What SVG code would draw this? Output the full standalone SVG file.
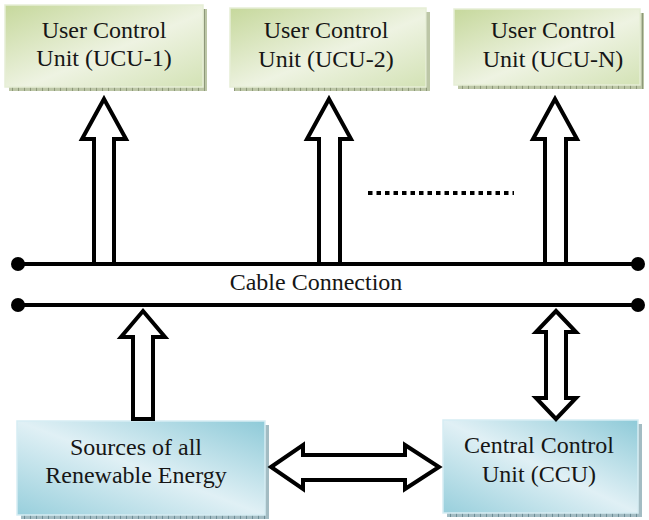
<svg xmlns="http://www.w3.org/2000/svg" width="649" height="520" viewBox="0 0 649 520">
  <style>
    .lbl { font-size: 24px; fill: #161616; text-anchor: middle; }
    .arrow { fill: #ffffff; stroke: #000000; stroke-width: 4; stroke-linejoin: miter; stroke-miterlimit: 10; }
    .bus { stroke: #000000; stroke-width: 4; fill: none; }
    .green { fill: url(#gradGreen); stroke: #e6eed6; stroke-width: 1.5; }
    .blue { fill: url(#gradBlue); stroke: #d6edf3; stroke-width: 1.5; }
    .shG { fill: url(#hatchG); }
    .shB { fill: url(#hatchB); }
  </style>
  <defs>
    <linearGradient id="gradGreen" x1="0" y1="0" x2="1" y2="1">
      <stop offset="0" stop-color="#c6d89c"/>
      <stop offset="0.55" stop-color="#eef3e2"/>
      <stop offset="1" stop-color="#d3e2b5"/>
    </linearGradient>
    <linearGradient id="gradBlue" x1="1" y1="0" x2="0" y2="1">
      <stop offset="0" stop-color="#8ecad8"/>
      <stop offset="0.5" stop-color="#e0f0f5"/>
      <stop offset="1" stop-color="#98cfdc"/>
    </linearGradient>
    <pattern id="hatchG" width="6" height="4" patternUnits="userSpaceOnUse">
      <rect width="6" height="4" fill="#bcc6a6"/>
      <line x1="0.5" y1="0" x2="0.5" y2="4" stroke="#8d9879" stroke-width="1"/>
    </pattern>
    <pattern id="hatchB" width="6" height="4" patternUnits="userSpaceOnUse">
      <rect width="6" height="4" fill="#a3bcc3"/>
      <line x1="0.5" y1="0" x2="0.5" y2="4" stroke="#6e8e97" stroke-width="1"/>
    </pattern>
  </defs>

  <g font-family="Liberation Serif, DejaVu Serif, serif">
    <!-- user control units -->
    <g id="ucu1">
      <rect class="shG" x="9" y="9" width="198" height="82"/>
      <rect class="green" x="5" y="5" width="198" height="82"/>
      <text class="lbl" x="104" y="38">User Control</text>
      <text class="lbl" x="104" y="66">Unit (UCU-1)</text>
    </g>
    <g id="ucu2">
      <rect class="shG" x="234" y="12" width="196" height="79"/>
      <rect class="green" x="230" y="8" width="196" height="79"/>
      <text class="lbl" x="326" y="38">User Control</text>
      <text class="lbl" x="326" y="67">Unit (UCU-2)</text>
    </g>
    <g id="ucuN">
      <rect class="shG" x="458" y="13" width="186" height="76"/>
      <rect class="green" x="454" y="9" width="186" height="76"/>
      <text class="lbl" x="553" y="38">User Control</text>
      <text class="lbl" x="553" y="67">Unit (UCU-N)</text>
    </g>

    <!-- energy sources and central controller -->
    <g id="sources">
      <rect class="shB" x="21" y="425" width="248" height="94"/>
      <rect class="blue" x="17" y="421" width="248" height="94"/>
      <text class="lbl" x="136" y="455">Sources of all</text>
      <text class="lbl" x="136" y="483">Renewable Energy</text>
    </g>
    <g id="ccu">
      <rect class="shB" x="447" y="424" width="195" height="93"/>
      <rect class="blue" x="443" y="420" width="195" height="93"/>
      <text class="lbl" x="539" y="453">Central Control</text>
      <text class="lbl" x="539" y="482">Unit (CCU)</text>
    </g>

    <!-- block arrows, cable bus and the continuation dots -->
    <g id="connectors">
      <path class="arrow" d="M104,99 L126,139 L114,139 L114,264 L94,264 L94,139 L82,139 Z"/>
      <path class="arrow" d="M329,99 L351,139 L340,139 L340,264 L319,264 L319,139 L307,139 Z"/>
      <path class="arrow" d="M555,99 L577,139 L566,139 L566,264 L545,264 L545,139 L533,139 Z"/>
      <path class="arrow" d="M143,311 L165,337 L153,337 L153,419 L133,419 L133,337 L121,337 Z"/>
      <path class="arrow" d="M556,311 L576,332 L566,332 L566,398 L576,398 L556,419 L536,398 L546,398 L546,332 L536,332 Z"/>
      <path class="arrow" d="M271,467 L303,445 L303,455 L405,455 L405,445 L439,467 L405,489 L405,480 L303,480 L303,489 Z"/>

      <line class="bus" x1="18" y1="264" x2="638" y2="264"/>
      <line class="bus" x1="18" y1="305" x2="638" y2="305"/>
      <circle cx="18" cy="264" r="7" fill="#000"/>
      <circle cx="638" cy="264" r="7" fill="#000"/>
      <circle cx="18" cy="305" r="7" fill="#000"/>
      <circle cx="638" cy="305" r="7" fill="#000"/>

      <line x1="368" y1="193" x2="514" y2="193" stroke="#000" stroke-width="4" stroke-dasharray="4.5 4"/>
    </g>

    <text class="lbl" x="316" y="290">Cable Connection</text>
  </g>
</svg>
